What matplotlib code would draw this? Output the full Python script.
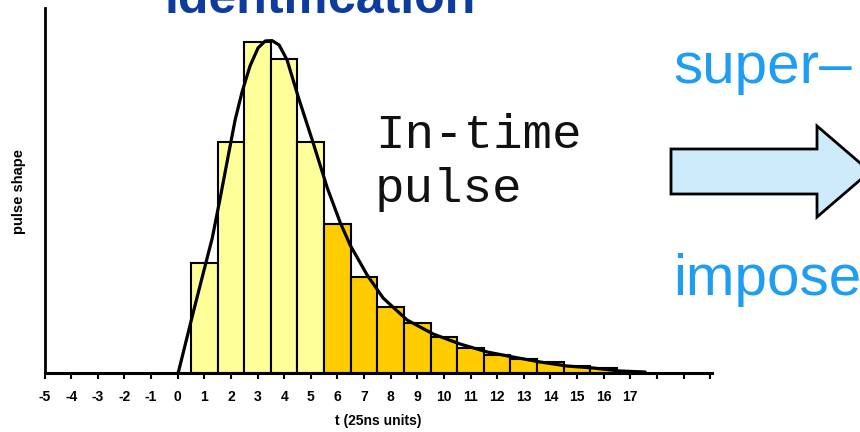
import matplotlib
matplotlib.use("Agg")
import matplotlib.pyplot as plt
from matplotlib.patches import Polygon

# Sampled pulse amplitude per 25 ns bin (normalised to the pulse peak)
bin_t = [1, 2, 3, 4, 5, 6, 7, 8, 9, 10, 11, 12, 13, 14, 15, 16]
bin_amp = [0.330, 0.694, 0.994, 0.943, 0.694, 0.447, 0.288, 0.198,
           0.150, 0.108, 0.075, 0.054, 0.042, 0.033, 0.021, 0.015]
# bins 1-5 belong to the in-time pulse, the rest is the tail
in_time_bins = 5

# Continuous pulse shape
curve_t = [0.02, 0.58, 1.03, 1.30, 1.60, 1.90, 2.16, 2.42, 2.72, 3.02,
           3.29, 3.55, 3.81, 4.11, 4.53, 5.09, 5.62, 6.10, 6.48, 7.12,
           7.72, 8.62, 9.60, 10.61, 11.63, 12.60, 13.62, 14.63, 15.61,
           16.62, 17.56]
curve_amp = [0.0, 0.180, 0.321, 0.405, 0.526, 0.652, 0.760, 0.844, 0.922,
             0.976, 0.997, 0.998, 0.985, 0.940, 0.829, 0.691, 0.556, 0.453,
             0.384, 0.294, 0.225, 0.159, 0.117, 0.087, 0.063, 0.048, 0.033,
             0.021, 0.015, 0.006, 0.003]

tick_pos = list(range(-5, 21))
tick_labels = [str(v) if v <= 17 else "" for v in tick_pos]

SANS = ["Liberation Sans", "DejaVu Sans"]
W, H = 860, 432
fig = plt.figure(figsize=(W / 100, H / 100), dpi=100)
ax = fig.add_axes([44.5 / W, (H - 373) / H, (712 - 44.5) / W, 365 / H])

colors = ["#FFFF99"] * in_time_bins + ["#FFCC00"] * (len(bin_t) - in_time_bins)
ax.bar(bin_t, bin_amp, width=1.0, color=colors, edgecolor="black",
       linewidth=1.5, zorder=2)
ax.plot(curve_t, curve_amp, color="black", linewidth=2.3, zorder=3,
        solid_capstyle="round", solid_joinstyle="round")

ax.set_xlim(-5, 20.07)
ax.set_ylim(0, 1.096)
ax.set_xticks(tick_pos)
ax.set_xticklabels(tick_labels, fontsize=10, fontweight="bold", family=SANS)
ax.tick_params(axis="x", direction="out", length=4, width=1.5, pad=8)
ax.set_yticks([])
for side in ("top", "right"):
    ax.spines[side].set_visible(False)
ax.spines["left"].set_linewidth(2.0)
ax.spines["bottom"].set_linewidth(2.2)

ax.set_xlabel("t (25ns units)", fontsize=10, fontweight="bold",
              family=SANS, labelpad=7.5)
fig.text(19 / W, (H - 192) / H, "pulse shape", rotation=90, ha="center",
         va="center", fontsize=10.5, fontweight="bold", family=SANS)

# slide heading
fig.text(165 / W, (H - 13) / H, "identification", ha="left", va="baseline",
         fontsize=36, fontweight="bold", color="#0D3B9E", family=SANS)

fig.text(375 / W, (H - 202) / H, "In-time\npulse", ha="left", va="baseline",
         fontsize=35.5, family=["Liberation Mono", "DejaVu Sans Mono"],
         linespacing=1.25, color="#111111")

blue = "#1E9DF2"
fig.text(673 / W, (H - 83) / H, "super\u2013", ha="left", va="baseline",
         fontsize=42, color=blue, family=SANS)
fig.text(673 / W, (H - 295) / H, "impose", ha="left", va="baseline",
         fontsize=42, color=blue, family=SANS)

arrow_px = [(671, 149), (817, 149), (817, 126), (870, 171.5),
            (817, 217), (817, 194), (671, 194)]
arrow = Polygon([(x / W, 1 - y / H) for x, y in arrow_px], closed=True,
                transform=fig.transFigure, facecolor="#CDEBFB",
                edgecolor="black", linewidth=2.0, clip_on=False)
fig.patches.append(arrow)

fig.savefig("out.png", dpi=100)
